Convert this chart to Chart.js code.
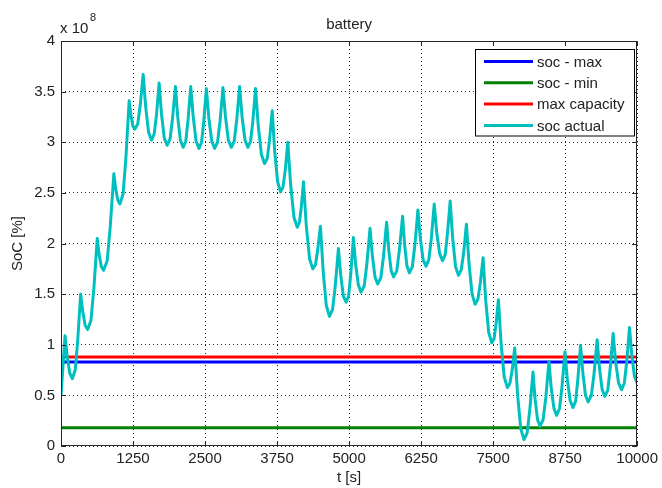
<!DOCTYPE html>
<html>
<head>
<meta charset="utf-8">
<script src="https://cdn.jsdelivr.net/npm/chart.js@4"></script>
<style>
  body { margin: 0; background: #fff; }
  #wrap { width: 662px; height: 488px; }
</style>
</head>
<body>
<div id="wrap"><canvas id="myChart" width="662" height="488"></canvas></div>
<script>
// SoC values are in units of 1e8 (axis shows "x 10^8")
var xTicks = [0, 1250, 2500, 3750, 5000, 6250, 7500, 8750, 10000]
var xTickLabels = ['0', '1250', '2500', '3750', '5000', '6250', '7500', '8750', '10000']
var yTicks = [0, 0.5, 1, 1.5, 2, 2.5, 3, 3.5, 4]
var yTickLabels = ['0', '0.5', '1', '1.5', '2', '2.5', '3', '3.5', '4']

var seriesNames = ['soc - max', 'soc - min', 'max capacity', 'soc actual']
var seriesColors = ['#0000ff', '#008000', '#ff0000', '#00bfbf']

// horizontal limits, start and end time
var limitTimes = [0, 10000]
var socMax = [0.83, 0.83]
var socMin = [0.18, 0.18]
var maxCapacity = [0.88, 0.88]

// soc actual: each row = peak, two points on the way down,
// trough, two points on the way up
var socTimes = [0,
	70, 108, 152, 196, 247, 290,
	341, 377, 420, 462, 520, 571,
	629, 662, 701, 739, 802, 855,
	918, 949, 986, 1022, 1078, 1127,
	1183, 1213, 1247, 1282, 1332, 1376,
	1426, 1470, 1520, 1571, 1617, 1657,
	1703, 1744, 1793, 1841, 1892, 1935,
	1986, 2026, 2072, 2119, 2166, 2205,
	2252, 2295, 2345, 2395, 2440, 2478,
	2523, 2566, 2617, 2667, 2717, 2761,
	2811, 2855, 2905, 2956, 3006, 3050,
	3100, 3143, 3194, 3244, 3291, 3330,
	3377, 3424, 3478, 3533, 3580, 3619,
	3666, 3709, 3760, 3810, 3854, 3893,
	3937, 3986, 4043, 4100, 4138, 4171,
	4209, 4257, 4314, 4370, 4417, 4456,
	4503, 4550, 4604, 4659, 4714, 4760,
	4815, 4855, 4901, 4948, 4992, 5031,
	5075, 5115, 5161, 5208, 5263, 5309,
	5364, 5404, 5450, 5496, 5551, 5597,
	5652, 5688, 5731, 5773, 5828, 5874,
	5929, 5964, 6004, 6045, 6098, 6143,
	6195, 6237, 6285, 6334, 6384, 6428,
	6478, 6521, 6572, 6622, 6669, 6708,
	6755, 6798, 6849, 6899, 6947, 6989,
	7037, 7082, 7135, 7188, 7236, 7278,
	7326, 7371, 7424, 7477, 7517, 7552,
	7592, 7639, 7693, 7748, 7792, 7831,
	7875, 7923, 7980, 8036, 8091, 8137,
	8192, 8229, 8271, 8314, 8368, 8415,
	8469, 8509, 8556, 8603, 8653, 8697,
	8747, 8788, 8837, 8885, 8932, 8971,
	9018, 9058, 9104, 9150, 9205, 9251,
	9306, 9346, 9392, 9439, 9489, 9533,
	9583, 9627, 9678, 9729, 9777, 9819,
	9867, 9907, 9953, 10000]
var socActual = [0.50,
	1.09, 0.88, 0.72, 0.665, 0.75, 1.04,
	1.50, 1.33, 1.19, 1.15, 1.24, 1.56,
	2.05, 1.89, 1.77, 1.735, 1.83, 2.17,
	2.69, 2.54, 2.43, 2.39, 2.49, 2.85,
	3.41, 3.27, 3.16, 3.13, 3.18, 3.37,
	3.67, 3.35, 3.10, 3.02, 3.08, 3.27,
	3.585, 3.28, 3.04, 2.97, 3.03, 3.23,
	3.55, 3.25, 3.02, 2.95, 3.01, 3.22,
	3.55, 3.25, 3.01, 2.94, 3.00, 3.21,
	3.53, 3.24, 3.01, 2.94, 3.00, 3.21,
	3.54, 3.25, 3.02, 2.95, 3.01, 3.22,
	3.55, 3.25, 3.02, 2.95, 3.01, 3.21,
	3.53, 3.16, 2.88, 2.79, 2.84, 3.02,
	3.31, 2.91, 2.61, 2.51, 2.56, 2.73,
	3.00, 2.58, 2.26, 2.16, 2.21, 2.36,
	2.61, 2.18, 1.85, 1.75, 1.79, 1.94,
	2.17, 1.73, 1.39, 1.28, 1.35, 1.58,
	1.95, 1.69, 1.48, 1.42, 1.48, 1.71,
	2.06, 1.79, 1.59, 1.52, 1.58, 1.80,
	2.15, 1.88, 1.67, 1.60, 1.66, 1.87,
	2.21, 1.94, 1.73, 1.67, 1.73, 1.94,
	2.27, 1.99, 1.78, 1.71, 1.77, 1.99,
	2.33, 2.05, 1.84, 1.775, 1.84, 2.05,
	2.39, 2.11, 1.90, 1.83, 1.89, 2.10,
	2.42, 2.05, 1.77, 1.685, 1.74, 1.91,
	2.19, 1.80, 1.50, 1.40, 1.45, 1.61,
	1.86, 1.44, 1.12, 1.02, 1.06, 1.21,
	1.445, 1.01, 0.68, 0.577, 0.62, 0.75,
	0.968, 0.52, 0.17, 0.063, 0.13, 0.36,
	0.73, 0.46, 0.26, 0.195, 0.26, 0.48,
	0.837, 0.57, 0.37, 0.303, 0.37, 0.59,
	0.93, 0.66, 0.45, 0.38, 0.44, 0.66,
	0.995, 0.72, 0.50, 0.435, 0.50, 0.71,
	1.05, 0.77, 0.56, 0.49, 0.55, 0.77,
	1.11, 0.83, 0.62, 0.557, 0.62, 0.83,
	1.17, 0.90, 0.69, 0.62]

var FONT = '"Liberation Sans", Arial, sans-serif'

function toPoints(xs, ys) {
	return xs.map(function (x, i) { return { x: x, y: ys[i] } })
}

function makeSet(i, xs, ys, order) {
	return {
		label: seriesNames[i],
		data: toPoints(xs, ys),
		borderColor: seriesColors[i],
		backgroundColor: seriesColors[i],
		borderWidth: 3,
		borderJoinStyle: 'round',
		pointRadius: 0,
		tension: 0,
		fill: false,
		order: order
	}
}

// frame, inward ticks, texts and the legend box (matlab look)
var decor = {
	id: 'decor',
	afterDraw: function (chart) {
		var ctx = chart.ctx
		var a = chart.chartArea
		var sx = chart.scales.x
		var sy = chart.scales.y
		ctx.save()
		ctx.strokeStyle = '#262626'
		ctx.lineWidth = 1
		ctx.strokeRect(Math.round(a.left) + 0.5, Math.round(a.top) + 0.5, Math.round(a.width) - 1, Math.round(a.height) - 1)

		ctx.beginPath()
		xTicks.forEach(function (v) {
			var px = Math.round(sx.getPixelForValue(v)) + 0.5
			ctx.moveTo(px, a.bottom); ctx.lineTo(px, a.bottom - 5)
			ctx.moveTo(px, a.top); ctx.lineTo(px, a.top + 5)
		})
		yTicks.forEach(function (v) {
			var py = Math.round(sy.getPixelForValue(v)) + 0.5
			ctx.moveTo(a.left, py); ctx.lineTo(a.left + 5, py)
			ctx.moveTo(a.right, py); ctx.lineTo(a.right - 5, py)
		})
		ctx.stroke()

		ctx.fillStyle = '#222'
		ctx.font = '15px ' + FONT
		ctx.textAlign = 'center'
		ctx.textBaseline = 'middle'
		var cx = (a.left + a.right) / 2
		ctx.fillText('battery', cx, 25)
		ctx.fillText('t [s]', cx, 478)
		ctx.save()
		ctx.translate(18, (a.top + a.bottom) / 2)
		ctx.rotate(-Math.PI / 2)
		ctx.fillText('SoC [%]', 0, 0)
		ctx.restore()

		ctx.textAlign = 'left'
		ctx.fillText('x 10', 60, 29)
		ctx.font = '11px ' + FONT
		ctx.fillText('8', 90, 18)

		// legend
		var lx = 475.5, ly = 49.5, lw = 159, lh = 86.5
		ctx.fillStyle = '#fff'
		ctx.fillRect(lx, ly, lw, lh)
		ctx.strokeStyle = '#000'
		ctx.lineWidth = 1
		ctx.strokeRect(lx, ly, lw, lh)
		ctx.font = '15px ' + FONT
		ctx.textBaseline = 'middle'
		seriesNames.forEach(function (name, i) {
			var ry = 61.5 + i * 21.3
			ctx.strokeStyle = seriesColors[i]
			ctx.lineWidth = 3
			ctx.beginPath()
			ctx.moveTo(484, ry); ctx.lineTo(533, ry)
			ctx.stroke()
			ctx.fillStyle = '#222'
			ctx.fillText(name, 537, ry + 1)
		})
		ctx.restore()
	}
}

var ctx = document.getElementById('myChart').getContext('2d')
var myChart = new Chart(ctx, {
	type: 'line',
	data: {
		datasets: [
			makeSet(0, limitTimes, socMax, 1),
			makeSet(1, limitTimes, socMin, 1),
			makeSet(2, limitTimes, maxCapacity, 1),
			makeSet(3, socTimes, socActual, 0)
		]
	},
	options: {
		responsive: false,
		animation: false,
		layout: { padding: { left: 0, top: 41, right: 23, bottom: 0 } },
		plugins: {
			legend: { display: false },
			tooltip: { enabled: false },
			title: { display: false }
		},
		scales: {
			x: {
				type: 'linear',
				min: 0,
				max: 10000,
				afterBuildTicks: function (s) { s.ticks = xTicks.map(function (v) { return { value: v } }) },
				ticks: {
					autoSkip: false,
					maxRotation: 0,
					padding: 4,
					color: '#222',
					font: { family: FONT, size: 15 },
					callback: function (v) { return xTickLabels[xTicks.indexOf(v)] }
				},
				grid: { color: 'rgba(0,0,0,0.85)', lineWidth: 1, drawTicks: false },
				border: { display: false, dash: [1, 3] },
				afterFit: function (s) { s.height = 42 }
			},
			y: {
				type: 'linear',
				min: 0,
				max: 4,
				afterBuildTicks: function (s) { s.ticks = yTicks.map(function (v) { return { value: v } }) },
				ticks: {
					padding: 6,
					color: '#222',
					font: { family: FONT, size: 15 },
					callback: function (v) { return yTickLabels[yTicks.indexOf(v)] }
				},
				grid: { color: 'rgba(0,0,0,0.85)', lineWidth: 1, drawTicks: false },
				border: { display: false, dash: [1, 3] },
				afterFit: function (s) { s.width = 61 }
			}
		}
	},
	plugins: [decor]
})
</script>
</body>
</html>
